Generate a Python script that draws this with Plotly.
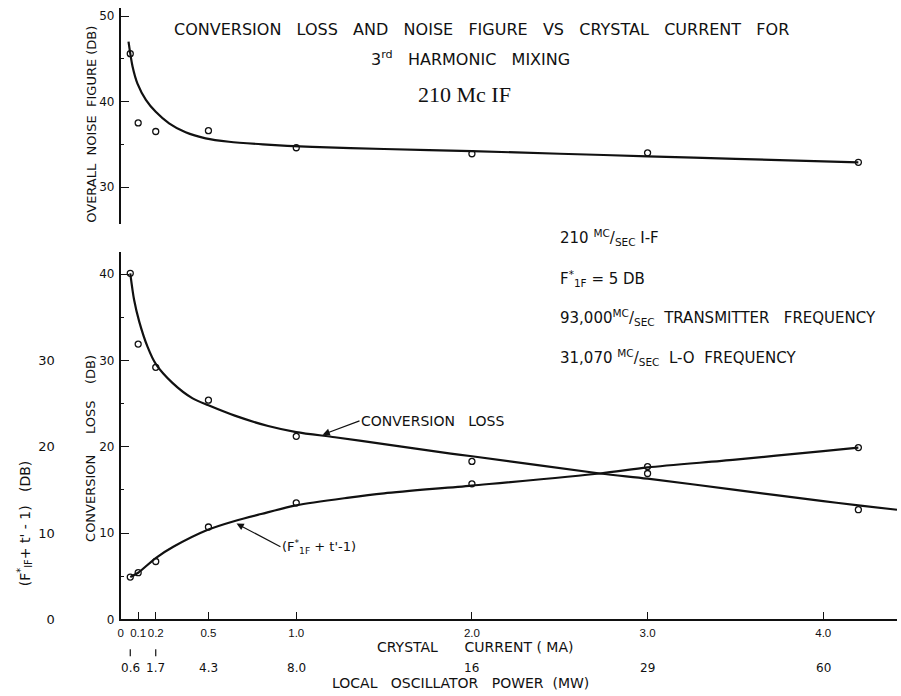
import plotly.graph_objects as go

# ---------------- data ----------------
# measured points (crystal current in mA)
current_pts = [0.055, 0.1, 0.2, 0.5, 1.0, 2.0, 3.0, 4.2]
noise_pts = [45.6, 37.5, 36.5, 36.6, 34.6, 33.9, 34.0, 32.9]
convloss_pts = [40.1, 31.9, 29.2, 25.4, 21.2, 18.3, 16.9, 12.7]
fterm_pts = [4.9, 5.4, 6.7, 10.7, 13.5, 15.7, 17.7, 19.9]

# hand-drawn fitted curves
noise_curve_x = [0.045, 0.068, 0.096, 0.144, 0.2, 0.276, 0.37, 0.484, 0.617, 0.81, 1.09, 1.5, 2.0, 2.5, 3.0, 3.5, 4.2]
noise_curve_y = [47.0, 44.1, 42.1, 40.2, 38.8, 37.45, 36.4, 35.7, 35.3, 35.0, 34.7, 34.45, 34.2, 33.9, 33.6, 33.3, 32.9]

conv_curve_x = [0.055, 0.077, 0.106, 0.153, 0.2, 0.295, 0.41, 0.5, 0.65, 0.84, 1.0, 1.22, 1.5, 1.88, 2.0, 2.73, 3.0, 3.5, 4.0, 4.2, 4.42]
conv_curve_y = [40.1, 37.0, 34.5, 31.6, 29.6, 27.4, 25.6, 24.8, 23.6, 22.4, 21.7, 21.1, 20.3, 19.2, 18.9, 16.9, 16.3, 15.0, 13.7, 13.2, 12.7]

f_curve_x = [0.055, 0.1, 0.2, 0.3, 0.5, 0.65, 0.8, 1.0, 1.3, 1.5, 2.0, 2.73, 3.0, 3.5, 4.0, 4.2]
f_curve_y = [4.9, 5.4, 7.1, 8.4, 10.4, 11.4, 12.2, 13.2, 14.1, 14.6, 15.5, 16.9, 17.6, 18.5, 19.5, 19.9]

current_ticks = [0, 0.1, 0.2, 0.5, 1.0, 2.0, 3.0, 4.0]
current_labels = ["0", "0.1", "0.2", "0.5", "1.0", "2.0", "3.0", "4.0"]
power_pos = [0.055, 0.2, 0.5, 1.0, 2.0, 3.0, 4.0]
power_labels = ["0.6", "1.7", "4.3", "8.0", "16", "29", "60"]
power_marked = [0.055, 0.2]

loss_ticks = [0, 10, 20, 30, 40]
loss_minor = [5, 15, 25, 35]
noise_ticks = [30, 40, 50]
noise_minor = [35, 45]
f_ticks = [0, 10, 20, 30]

# ---------------- layout helpers ----------------
W, H = 901, 696
FONT = "DejaVu Sans"
BLACK = "#111111"
VSCALE = 0.988  # observed vertical squeeze of the captured page

def px_x(p):
    return p / W

def px_y(p):
    return 1 - p / (H * VSCALE)

fig = go.Figure()

mk = dict(symbol="circle-open", size=6, color=BLACK, line=dict(width=1.3, color=BLACK))
ln = dict(color=BLACK, width=2.2, shape="spline", smoothing=0.8)

# upper panel
fig.add_trace(go.Scatter(x=noise_curve_x, y=noise_curve_y, mode="lines", line=ln,
                         xaxis="x2", yaxis="y2", hoverinfo="skip", showlegend=False))
fig.add_trace(go.Scatter(x=current_pts, y=noise_pts, mode="markers", marker=mk,
                         xaxis="x2", yaxis="y2", showlegend=False))
# lower panel
fig.add_trace(go.Scatter(x=conv_curve_x, y=conv_curve_y, mode="lines", line=ln,
                         xaxis="x", yaxis="y", hoverinfo="skip", showlegend=False))
fig.add_trace(go.Scatter(x=f_curve_x, y=f_curve_y, mode="lines", line=ln,
                         xaxis="x", yaxis="y", hoverinfo="skip", showlegend=False))
fig.add_trace(go.Scatter(x=current_pts, y=convloss_pts, mode="markers", marker=mk,
                         xaxis="x", yaxis="y", showlegend=False))
fig.add_trace(go.Scatter(x=current_pts, y=fterm_pts, mode="markers", marker=mk,
                         xaxis="x", yaxis="y", showlegend=False))
# dummy for secondary left axis
fig.add_trace(go.Scatter(x=[None], y=[None], xaxis="x", yaxis="y3", showlegend=False, hoverinfo="skip"))

xdom = [px_x(118), px_x(897)]
xrange = [0, 4.42]
lower_dom = [px_y(619), px_y(252)]
lower_range = [0, (619 - 252) / 8.625]
upper_dom = [px_y(224), px_y(8)]
upper_range = [30 - (224 - 187) / 8.55, 50 + (16 - 8) / 8.55]

tickfont = dict(family=FONT, size=12, color=BLACK)
xtickfont = dict(family="Liberation Sans", size=11.5, color=BLACK)

fig.update_layout(
    width=W, height=H, autosize=False,
    margin=dict(l=0, r=0, t=0, b=0),
    paper_bgcolor="white", plot_bgcolor="white",
    showlegend=False,
    font=dict(family=FONT, color=BLACK, size=12),
    xaxis=dict(domain=xdom, range=xrange, anchor="y", showline=True, linecolor=BLACK, linewidth=1.6,
               ticks="inside", ticklen=8, tickwidth=1.4, tickcolor=BLACK,
               tickvals=current_ticks, ticktext=current_labels, tickfont=xtickfont,
               tickangle=0, ticklabelstandoff=2,
               showgrid=False, zeroline=False),
    xaxis2=dict(domain=xdom, range=xrange, anchor="y2", matches="x", visible=False),
    yaxis=dict(domain=lower_dom, range=lower_range, anchor="x", showline=True, linecolor=BLACK, linewidth=1.6,
               ticks="inside", ticklen=9, tickwidth=1.4, tickcolor=BLACK,
               tickvals=loss_ticks, tickfont=tickfont, ticklabelstandoff=2,
               minor=dict(tickvals=loss_minor, ticks="inside", ticklen=4, tickcolor=BLACK, tickwidth=1.2),
               showgrid=False, zeroline=False),
    yaxis2=dict(domain=upper_dom, range=upper_range, anchor="x2", showline=True, linecolor=BLACK, linewidth=1.6,
                ticks="inside", ticklen=9, tickwidth=1.4, tickcolor=BLACK,
                tickvals=noise_ticks, tickfont=tickfont, ticklabelstandoff=2,
                minor=dict(tickvals=noise_minor, ticks="inside", ticklen=4, tickcolor=BLACK, tickwidth=1.2),
                showgrid=False, zeroline=False),
    yaxis3=dict(domain=lower_dom, range=lower_range, overlaying="y", anchor="free", position=px_x(52),
                side="left", showline=False, ticks="", tickvals=f_ticks,
                tickfont=dict(family=FONT, size=13, color=BLACK),
                showgrid=False, zeroline=False),
)

ann = []
def text(x, y, t, size=12, xanchor="center", yanchor="middle", angle=0, family=FONT):
    ann.append(dict(x=px_x(x), y=px_y(y), xref="paper", yref="paper", text=t, showarrow=False,
                    xanchor=xanchor, yanchor=yanchor, textangle=angle,
                    font=dict(family=family, size=size, color=BLACK)))

# titles
text(480, 29, "CONVERSION   LOSS   AND   NOISE   FIGURE   VS   CRYSTAL   CURRENT   FOR", size=16)
text(469, 58, "3<sup>rd</sup>   HARMONIC   MIXING", size=16)
text(463, 94, "210 Mc IF", size=22, family="Liberation Serif")

# right-hand notes
text(557, 237, "210 <sup>MC</sup>/<sub>SEC</sub> I-F", size=15, xanchor="left")
text(557, 278, "F<sup>*</sup><sub>1F</sub> = 5 DB", size=15, xanchor="left")
text(557, 317, "93,000<sup>MC</sup>/<sub>SEC</sub>  TRANSMITTER   FREQUENCY", size=15, xanchor="left")
text(557, 357, "31,070 <sup>MC</sup>/<sub>SEC</sub>  L-O  FREQUENCY", size=15, xanchor="left")

# axis titles
text(88, 124, "OVERALL  NOISE  FIGURE (DB)", size=13, angle=-90)
text(88, 448, "CONVERSION     LOSS    (DB)", size=13, angle=-90)
text(22, 523, "(F<sup>*</sup><sub>IF</sub>+ t' - 1)   (DB)", size=14, angle=-90)
text(474, 647, "CRYSTAL      CURRENT ( MA)", size=14)
text(459, 683, "LOCAL   OSCILLATOR   POWER  (MW)", size=14)

# local oscillator power labels
for pv, pl in zip(power_pos, power_labels):
    ann.append(dict(x=pv, y=px_y(668), xref="x", yref="paper", text=pl, showarrow=False,
                    xanchor="center", yanchor="middle", font=dict(family=FONT, size=12, color=BLACK)))

# callouts with arrows
ann.append(dict(x=1.15, y=21.4, xref="x", yref="y", ax=1.36, ay=23.0, axref="x", ayref="y",
                text="CONVERSION   LOSS", xanchor="left", yanchor="middle", showarrow=True,
                arrowhead=2, arrowsize=1.2, arrowwidth=1.2, arrowcolor=BLACK,
                font=dict(family=FONT, size=14, color=BLACK)))
ann.append(dict(x=0.66, y=11.1, xref="x", yref="y", ax=0.91, ay=8.4, axref="x", ayref="y",
                text="(F<sup>*</sup><sub>1F</sub> + t'-1)", xanchor="left", yanchor="middle", showarrow=True,
                arrowhead=2, arrowsize=1.2, arrowwidth=1.2, arrowcolor=BLACK,
                font=dict(family=FONT, size=13, color=BLACK)))

fig.update_layout(annotations=ann)

shapes = []
for pv in power_marked:
    shapes.append(dict(type="line", xref="x", yref="paper", x0=pv, x1=pv,
                       y0=px_y(656), y1=px_y(649), line=dict(color=BLACK, width=1.2)))
fig.update_layout(shapes=shapes)

fig.write_html("out.html", config={"displayModeBar": False, "responsive": False},
               post_script=("document.documentElement.style.margin='0';"
                            "document.body.style.margin='0';"
                            "document.body.style.padding='0';"
                            "document.documentElement.style.overflow='hidden';"
                            "document.body.style.overflow='hidden';"))
